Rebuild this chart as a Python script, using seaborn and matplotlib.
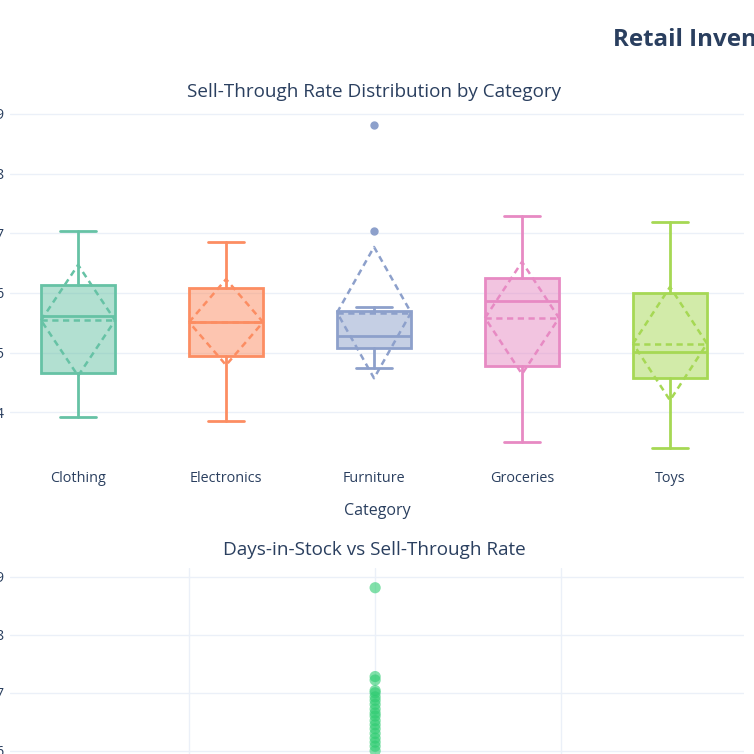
import numpy as np
import matplotlib
matplotlib.use("Agg")
import matplotlib.pyplot as plt
import seaborn as sns

# ---- data ----
categories = ["Clothing", "Electronics", "Furniture", "Groceries", "Toys"]
q1 = [0.465, 0.494, 0.507, 0.477, 0.457]
median = [0.561, 0.551, 0.528, 0.586, 0.501]
q3 = [0.613, 0.609, 0.569, 0.625, 0.600]
whisker_low = [0.392, 0.385, 0.474, 0.350, 0.340]
whisker_high = [0.703, 0.685, 0.577, 0.729, 0.719]
means = [0.554, 0.551, 0.567, 0.558, 0.515]
stds = [0.093, 0.072, 0.110, 0.094, 0.095]
outliers = [[], [], [0.703, 0.881], [], []]

days_in_stock = [30] * 19
sell_through = [0.881, 0.728, 0.722, 0.704, 0.700, 0.693, 0.687, 0.680, 0.672,
                0.665, 0.660, 0.652, 0.645, 0.638, 0.630, 0.622, 0.615, 0.608, 0.600]

palette = ["#66c2a5", "#fc8d62", "#8da0cb", "#e78ac3", "#a6d854"]
text_color = "#2a3f5f"
grid_color = "#ebf0f8"

sns.set_theme(style="white")
plt.rcParams["font.family"] = ["Open Sans", "DejaVu Sans"]

W = H = 754
fig = plt.figure(figsize=(W / 100, H / 100), dpi=100)


def px_box(left, top, right, bottom):
    return [left / W, 1 - bottom / H, (right - left) / W, (bottom - top) / H]


# ---- top: box plots ----
ax = fig.add_axes(px_box(10, 105, 744, 457))
stats = []
for i, cat in enumerate(categories):
    stats.append(dict(label=cat, q1=q1[i], med=median[i], q3=q3[i],
                      whislo=whisker_low[i], whishi=whisker_high[i],
                      fliers=outliers[i], mean=means[i]))
pos = np.arange(len(categories))
bp = ax.bxp(stats, positions=pos, widths=0.5, capwidths=0.245, patch_artist=True,
            showfliers=True, manage_ticks=False)
for i, c in enumerate(palette):
    bp["boxes"][i].set(facecolor=matplotlib.colors.to_rgba(c, 0.5), edgecolor=c, linewidth=2)
    bp["medians"][i].set(color=c, linewidth=2)
    for art in bp["whiskers"][2 * i:2 * i + 2] + bp["caps"][2 * i:2 * i + 2]:
        art.set(color=c, linewidth=2)
    bp["fliers"][i].set(marker="o", markerfacecolor=c, markeredgecolor=c, markersize=5)
    # mean line and +/- sd diamond
    x0 = pos[i]
    ax.plot([x0 - 0.25, x0 + 0.25], [means[i], means[i]], color=c, lw=1.8, ls=(0, (2.5, 1.8)))
    ax.plot([x0 - 0.25, x0, x0 + 0.25, x0, x0 - 0.25],
            [means[i], means[i] + stds[i], means[i], means[i] - stds[i], means[i]],
            color=c, lw=1.8, ls=(0, (2.5, 1.8)))

ax.set_xlim(-0.46, 4.5)
ax.set_ylim(0.325, 0.915)
ax.set_xticks(pos)
ax.set_xticklabels(categories)
ax.set_yticks([0.4, 0.5, 0.6, 0.7, 0.8, 0.9])
ax.yaxis.set_major_formatter(matplotlib.ticker.FormatStrFormatter("%.1f"))
ax.grid(axis="y", color=grid_color, lw=1)
ax.set_axisbelow(True)
ax.tick_params(axis="both", length=0, labelsize=10.4, colors=text_color)
ax.tick_params(axis="x", pad=10)
ax.tick_params(axis="y", pad=4)
for s in ax.spines.values():
    s.set_visible(False)
ax.set_xlabel("Category", fontsize=11.5, color=text_color, labelpad=12)
ax.set_ylabel("")

# ---- bottom: scatter ----
ax2 = fig.add_axes(px_box(10, 568, 744, 925))
sns.scatterplot(x=days_in_stock, y=sell_through, ax=ax2, color="#2ecc71", alpha=0.6,
                s=65, edgecolor="none")
ax2.set_xlim(10.4, 49.8)
ax2.set_ylim(0.3, 0.915)
ax2.set_xticks([20, 30, 40])
ax2.set_yticks([0.4, 0.5, 0.6, 0.7, 0.8, 0.9])
ax2.yaxis.set_major_formatter(matplotlib.ticker.FormatStrFormatter("%.1f"))
ax2.grid(True, color=grid_color, lw=1)
ax2.set_axisbelow(True)
ax2.tick_params(axis="both", length=0, labelsize=10.4, colors=text_color, pad=4)
for s in ax2.spines.values():
    s.set_visible(False)

# ---- titles ----
fig.text(374 / W, 1 - 92 / H, "Sell-Through Rate Distribution by Category",
         ha="center", va="center", fontsize=13.6, color=text_color)
fig.text(374 / W, 1 - 550 / H, "Days-in-Stock vs Sell-Through Rate",
         ha="center", va="center", fontsize=13.6, color=text_color)
fig.text(613 / W, 1 - 40 / H, "Retail Inventory Performance Dashboard",
         ha="left", va="center", fontsize=17.4, fontweight="bold", color=text_color)

fig.savefig("out.png", dpi=100, facecolor="white")
